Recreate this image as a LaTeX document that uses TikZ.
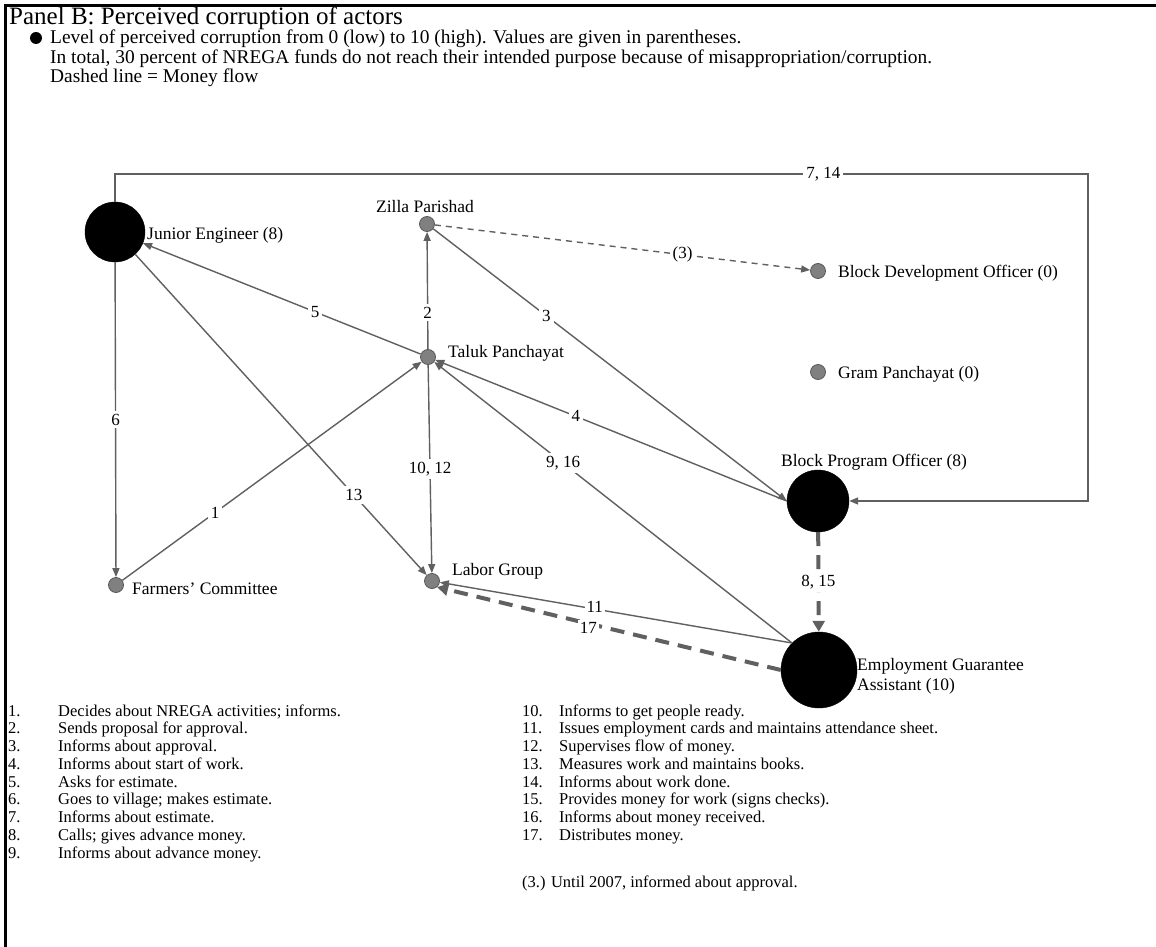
\documentclass[tikz,border=0pt]{standalone}
\usepackage{fontspec}
\setmainfont{Liberation Serif}
\usetikzlibrary{arrows.meta}
\definecolor{linegray}{RGB}{96,96,96}
\definecolor{dotgray}{RGB}{128,128,128}
\definecolor{dotrim}{RGB}{88,88,88}
\begin{document}
\begin{tikzpicture}[x=1pt,y=-1pt,
  actor/.style={circle, fill=black, draw=black, minimum size=60pt, inner sep=0pt},
  minor/.style={circle, fill=dotgray, draw=dotrim, line width=0.8pt, minimum size=15pt, inner sep=0pt},
  who/.style={font=\fontsize{17.5}{20}\selectfont, inner sep=0pt},
  keyline/.style={anchor=base west, inner sep=0pt, font=\fontsize{19.4}{20}\selectfont},
  link/.style={draw=linegray, line width=1.4pt, -{Triangle[length=9pt,width=7pt]}},
  aside/.style={draw=linegray, line width=1.4pt, dash pattern=on 6pt off 5pt, -{Triangle[length=9pt,width=7pt]}},
  money/.style={draw=linegray, line width=4pt, dash pattern=on 14pt off 9pt, -{Triangle[length=11pt,width=12pt]}},
  flowno/.style={fill=white, inner sep=3pt, font=\fontsize{17}{19}\selectfont, text=black},
  steplist/.style={inner sep=0pt, font=\fontsize{16.5}{17.75}\selectfont}
]
\useasboundingbox (0,0) rectangle (1156,947);
\fill[white] (0,0) rectangle (1156,947);

% frame
\draw[line width=3pt] (5,947) -- (5,6) -- (1156,6);

% title and key
\node[anchor=base west, inner sep=0pt, font=\fontsize{25}{30}\selectfont] (title) at (9,25) {Panel B: Perceived corruption of actors};
\node[circle, fill=black, minimum size=12pt, inner sep=0pt] (key) at (36,38) {};
\node[keyline] (keyA) at (50,44) {Level of perceived corruption from 0 (low) to 10 (high). Values are given in parentheses.};
\node[keyline] (keyB) at (50,63.5) {In total, 30 percent of NREGA funds do not reach their intended purpose because of misappropriation/corruption.};
\node[keyline] (keyC) at (50,83) {Dashed line = Money flow};

% actors
\node[actor] (JE) at (115,232) {};
\node[minor] (ZP) at (427,224) {};
\node[minor] (TP) at (428,357) {};
\node[minor] (BDO) at (818,271) {};
\node[minor] (GP) at (818,372) {};
\node[actor, minimum size=62pt] (BPO) at (818,501) {};
\node[actor, minimum size=76pt] (EGA) at (819,670) {};
\node[minor] (LG) at (432,581) {};
\node[minor] (FC) at (116,585) {};

% actor names
\node[who, anchor=west] (JEt) at (147,235) {Junior Engineer (8)};
\node[who] (ZPt) at (425,207) {Zilla Parishad};
\node[who, anchor=west] (TPt) at (448,353) {Taluk Panchayat};
\node[who, anchor=west] (BDOt) at (838,273) {Block Development Officer (0)};
\node[who, anchor=west] (GPt) at (838,374) {Gram Panchayat (0)};
\node[who, anchor=west] (BPOt) at (781,462) {Block Program Officer (8)};
\node[who, anchor=west, align=left] (EGAt) at (857,676) {Employment Guarantee\\Assistant (10)};
\node[who, anchor=west] (LGt) at (452,571) {Labor Group};
\node[who, anchor=west] (FCt) at (132,589) {Farmers’ Committee};

% information flows
\coordinate (ne) at (1088,174);
\draw[link] (FC) -- node[flowno, pos=0.31] {1} (TP);
\draw[link] (TP) -- node[flowno, pos=0.31] {2} (ZP);
\draw[link] (ZP) -- node[flowno, pos=0.32] {3} (BPO.west);
\draw[link] (BPO.west) -- node[flowno, pos=0.6] {4} (TP);
\draw[link] (TP) -- node[flowno, pos=0.38] {5} (JE);
\draw[link] (JE) -- node[flowno, pos=0.5] {6} (FC);
\draw[link] (JE.north) |- node[flowno, pos=0.864] {7, 14} (ne) |- (BPO.east);
\draw[link] (EGA.135) -- node[flowno, pos=0.64] {9, 16} (TP);
\draw[link] (TP) -- node[flowno, pos=0.5] {10, 12} (LG);
\draw[link] (EGA.135) -- node[flowno, pos=0.56, inner sep=2pt, yshift=2pt] {11} (LG);
\draw[link] (JE) -- node[flowno, pos=0.75] {13} (LG);
\draw[aside] (ZP) -- node[flowno, pos=0.66] {(3)} (BDO);

% money flows
\draw[money] (BPO) -- node[flowno] {8, 15} (EGA);
\draw[money] (EGA.west) -- node[flowno, pos=0.56, inner sep=2pt, yshift=-4pt] {17} (LG.-50);

% legend of steps
\node[steplist, anchor=base west] (stepsA) at (8,716) {\begin{tabular}[t]{@{}p{50pt}@{}l@{}}
1. & Decides about NREGA activities; informs.\\
2. & Sends proposal for approval.\\
3. & Informs about approval.\\
4. & Informs about start of work.\\
5. & Asks for estimate.\\
6. & Goes to village; makes estimate.\\
7. & Informs about estimate.\\
8. & Calls; gives advance money.\\
9. & Informs about advance money.
\end{tabular}};
\node[steplist, anchor=base west] (stepsB) at (522,716) {\begin{tabular}[t]{@{}p{37pt}@{}l@{}}
10. & Informs to get people ready.\\
11. & Issues employment cards and maintains attendance sheet.\\
12. & Supervises flow of money.\\
13. & Measures work and maintains books.\\
14. & Informs about work done.\\
15. & Provides money for work (signs checks).\\
16. & Informs about money received.\\
17. & Distributes money.
\end{tabular}};
\node[steplist, anchor=base west] (note) at (522,887) {(3.) Until 2007, informed about approval.};
\end{tikzpicture}
\end{document}
